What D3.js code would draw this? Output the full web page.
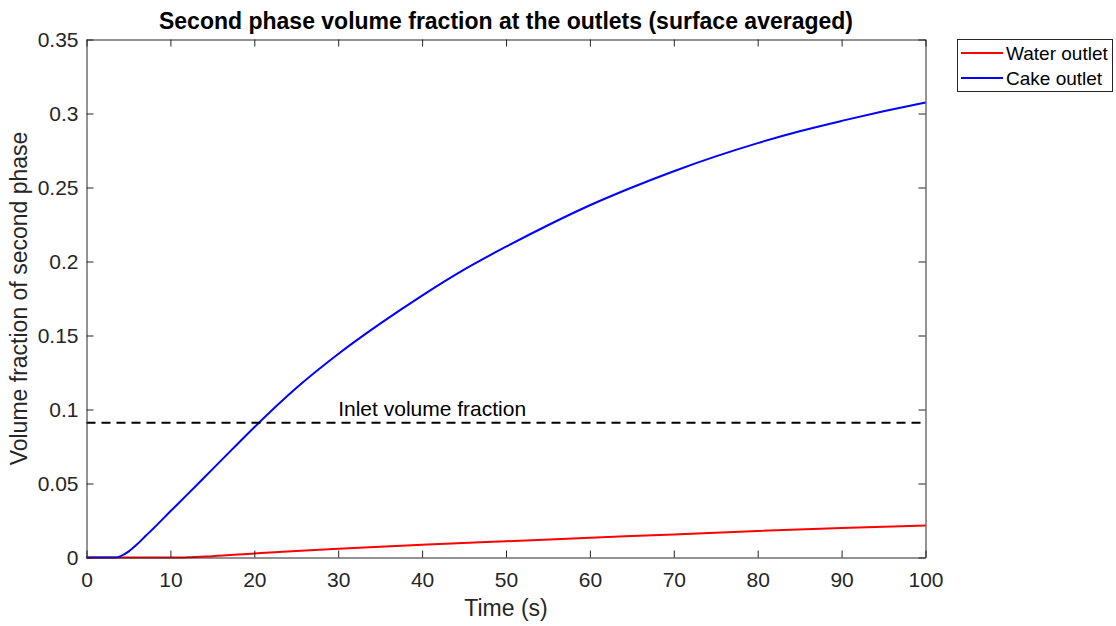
<!DOCTYPE html>
<html>
<head>
<meta charset="utf-8">
<script src="https://cdn.jsdelivr.net/npm/d3@7"></script>
<style>
  html, body { margin: 0; padding: 0; background: #fff; }
  svg { display: block; }
  text { font-family: "Liberation Sans", Arial, Helvetica, sans-serif; }
</style>
</head>
<body>
<svg id="chart" width="1116" height="626"></svg>
<script>
// Time samples (s) and surface-averaged volume fraction of the second phase
const waterTime  = [0, 5, 10, 12, 15, 20, 25, 30, 35, 40, 50, 60, 70, 80, 90, 100];
const waterValue = [0, 0, 0, 0.0001, 0.0009, 0.0027, 0.0044, 0.0059, 0.0073, 0.0086, 0.0110, 0.0133, 0.0156, 0.0179, 0.0199, 0.0216];

const cakeTime  = [0, 3.5, 4, 5, 6, 7, 8, 10, 12, 14, 16, 18, 20, 25, 30, 35, 40, 45, 50, 55, 60, 65, 70, 75, 80, 85, 90, 95, 100];
const cakeValue = [0, 0, 0.0008, 0.004, 0.0088, 0.0143, 0.0198, 0.0312, 0.0425, 0.0539, 0.0653, 0.0767, 0.088, 0.1145, 0.1375, 0.158, 0.177, 0.1945, 0.210, 0.2245, 0.238, 0.250, 0.261, 0.271, 0.280, 0.288, 0.295, 0.3015, 0.3075];

const inletFraction = 0.091;

const xTicks = [0, 10, 20, 30, 40, 50, 60, 70, 80, 90, 100];
const yTicks = [0, 0.05, 0.1, 0.15, 0.2, 0.25, 0.3, 0.35];

const seriesNames  = ["Water outlet", "Cake outlet"];
const seriesColors = ["#ff0000", "#0000ff"];

const svg = d3.select("#chart");
const plotLeft = 86.5, plotRight = 925.5, plotTop = 39.5, plotBottom = 557.5;
const axisColor = "#262626";

const x = d3.scaleLinear().domain([0, 100]).range([plotLeft, plotRight]);
const y = d3.scaleLinear().domain([0, 0.35]).range([plotBottom, plotTop]);

const fmtY = d => d === 0 ? "0" : String(+d.toFixed(2));

// Data lines
const line = d3.line().x(d => x(d[0])).y(d => y(d[1])).curve(d3.curveMonotoneX);
const plot = svg.append("g");
plot.append("path")
  .datum(waterTime.map((t, i) => [t, waterValue[i]]))
  .attr("d", line).attr("fill", "none")
  .attr("stroke", seriesColors[0]).attr("stroke-width", 2);
plot.append("path")
  .datum(cakeTime.map((t, i) => [t, cakeValue[i]]))
  .attr("d", line).attr("fill", "none")
  .attr("stroke", seriesColors[1]).attr("stroke-width", 2);

// Inlet reference line
plot.append("line")
  .attr("x1", x(0)).attr("x2", x(100))
  .attr("y1", y(inletFraction)).attr("y2", y(inletFraction))
  .attr("stroke", "#000").attr("stroke-width", 2)
  .attr("stroke-dasharray", "9,6");
plot.append("text")
  .attr("x", x(30)).attr("y", y(inletFraction) - 7)
  .attr("font-size", 21).attr("fill", "#000")
  .text("Inlet volume fraction");

// Axes with inward ticks on all four sides
const tick = 7;
const xAxisB = d3.axisBottom(x).tickValues(xTicks).tickSize(-tick).tickSizeOuter(0).tickPadding(15);
const xAxisT = d3.axisTop(x).tickValues(xTicks).tickSize(-tick).tickSizeOuter(0).tickFormat("");
const yAxisL = d3.axisLeft(y).tickValues(yTicks).tickSize(-tick).tickSizeOuter(0).tickPadding(8).tickFormat(fmtY);
const yAxisR = d3.axisRight(y).tickValues(yTicks).tickSize(-tick).tickSizeOuter(0).tickFormat("");

function styleAxis(g) {
  g.select(".domain").attr("stroke", axisColor).attr("stroke-width", 1);
  g.selectAll(".tick line").attr("stroke", axisColor).attr("stroke-width", 1);
  g.selectAll(".tick text").attr("fill", axisColor).attr("font-size", 21)
    .style("font-family", "'Liberation Sans', Arial, sans-serif");
}
svg.append("g").attr("transform", `translate(0,${plotBottom})`).call(xAxisB).call(styleAxis);
svg.append("g").attr("transform", `translate(0,${plotTop})`).call(xAxisT).call(styleAxis);
svg.append("g").attr("transform", `translate(${plotLeft},0)`).call(yAxisL).call(styleAxis);
svg.append("g").attr("transform", `translate(${plotRight},0)`).call(yAxisR).call(styleAxis);

// Titles
svg.append("text")
  .attr("x", (plotLeft + plotRight) / 2).attr("y", 29)
  .attr("text-anchor", "middle").attr("font-size", 23).attr("font-weight", "bold")
  .attr("fill", "#000")
  .text("Second phase volume fraction at the outlets (surface averaged)");
svg.append("text")
  .attr("x", (plotLeft + plotRight) / 2).attr("y", 616)
  .attr("text-anchor", "middle").attr("font-size", 23).attr("fill", axisColor)
  .text("Time (s)");
svg.append("text")
  .attr("transform", `translate(27,${(plotTop + plotBottom) / 2}) rotate(-90)`)
  .attr("text-anchor", "middle").attr("font-size", 23).attr("fill", axisColor)
  .text("Volume fraction of second phase");

// Legend
const lg = svg.append("g");
lg.append("rect")
  .attr("x", 957.5).attr("y", 39.5).attr("width", 155).attr("height", 52)
  .attr("fill", "#fff").attr("stroke", axisColor).attr("stroke-width", 1);
seriesNames.forEach((name, i) => {
  const yy = 53 + i * 25;
  lg.append("line").attr("x1", 961).attr("x2", 1003).attr("y1", yy).attr("y2", yy)
    .attr("stroke", seriesColors[i]).attr("stroke-width", 2);
  lg.append("text").attr("x", 1006).attr("y", yy + 7)
    .attr("font-size", 19).attr("fill", "#000").text(name);
});
</script>
</body>
</html>
